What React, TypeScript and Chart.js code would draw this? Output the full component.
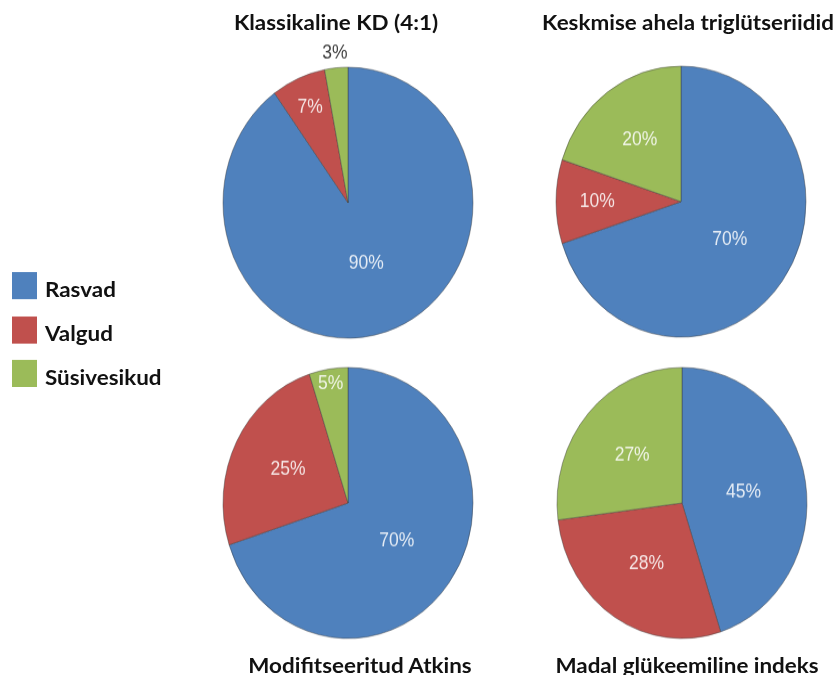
import React, { useEffect, useRef } from 'react';
import { Chart, registerables } from 'chart.js';

Chart.register(...registerables);

// Macronutrient split (% of energy) for four ketogenic diet variants
const categories = ['Rasvad', 'Valgud', 'Süsivesikud'];
const dietTitles = [
  'Klassikaline KD (4:1)',
  'Keskmise ahela triglütseriidid',
  'Modifitseeritud Atkins',
  'Madal glükeemiline indeks',
];
const klassikalineKD = [90, 7, 3];
const keskmiseAhelaTG = [70, 10, 20];
const modifitseeritudAtkins = [70, 25, 5];
const madalGlykeemiline = [45, 28, 27];

const sliceColors = ['#4F81BD', '#C0504D', '#9BBB59'];
const STRETCH = 1.084;
const TEXT_WIDEN = 1.12;
const TITLE_FONT = 'Lato, "Open Sans", sans-serif';

// Percentage labels: inside the slice (further out for narrow slices),
// or just outside the rim when the slice is too thin.
const percentLabels = {
  id: 'percentLabels',
  afterDatasetsDraw(chart: any) {
    const ctx = chart.ctx as CanvasRenderingContext2D;
    const meta = chart.getDatasetMeta(0);
    const data = chart.data.datasets[0].data as number[];
    const total = data.reduce((a, b) => a + b, 0);
    ctx.save();
    ctx.font = '17.5px "Liberation Sans", Arial, sans-serif';
    ctx.textAlign = 'center';
    ctx.textBaseline = 'middle';
    meta.data.forEach((arc: any, i: number) => {
      const { x, y, startAngle, endAngle, outerRadius } = arc.getProps(
        ['x', 'y', 'startAngle', 'endAngle', 'outerRadius'],
        true
      );
      const mid = (startAngle + endAngle) / 2;
      const share = data[i] / total;
      const fit = 0.45 + 0.022 / share;
      let dist: number;
      if (fit <= 1) {
        dist = fit * outerRadius;
        ctx.fillStyle = 'rgba(255,255,255,0.85)';
      } else {
        dist = outerRadius + 13;
        ctx.fillStyle = '#404040';
      }
      ctx.fillText(`${data[i]}%`, x + Math.cos(mid) * dist, y + Math.sin(mid) * dist);
    });
    ctx.restore();
  },
};

function DietPie({ values, cx, cy }: { values: number[]; cx: number; cy: number }) {
  const ref = useRef<HTMLCanvasElement>(null);
  useEffect(() => {
    const chart = new Chart(ref.current!, {
      type: 'pie',
      data: {
        labels: categories,
        datasets: [
          {
            data: values,
            backgroundColor: sliceColors,
            borderColor: 'rgba(60,60,60,0.45)',
            borderWidth: 1,
            radius: 125,
          } as any,
        ],
      },
      options: {
        responsive: false,
        animation: false,
        events: [],
        layout: { padding: 0 },
        plugins: {
          legend: { display: false },
          tooltip: { enabled: false },
          title: { display: false },
        },
      },
      plugins: [percentLabels],
    });
    return () => chart.destroy();
  }, [values]);
  return (
    <canvas
      ref={ref}
      width={300}
      height={300}
      style={{ position: 'absolute', left: cx - 150, top: cy - 150 }}
    />
  );
}

function Title({ text, cx, top }: { text: string; cx: number; top: number }) {
  return (
    <div
      style={{
        position: 'absolute',
        left: cx - 220,
        width: 440,
        top,
        textAlign: 'center',
        font: `bold 20px/20px ${TITLE_FONT}`,
        color: '#111',
        whiteSpace: 'nowrap',
        transform: `scaleX(${TEXT_WIDEN})`,
        transformOrigin: 'center',
      }}
    >
      {text}
    </div>
  );
}

const legendTops = [251, 291.5, 332];

export default function App() {
  return (
    <div
      style={{
        position: 'fixed',
        left: 0,
        top: 0,
        width: 835,
        height: 675,
        overflow: 'hidden',
        background: '#fff',
      }}
    >
      <div
        style={{
          position: 'absolute',
          left: 0,
          top: 0,
          width: 835,
          height: 625,
          transform: `scaleY(${STRETCH})`,
          transformOrigin: 'top left',
        }}
      >
        <DietPie values={klassikalineKD} cx={348} cy={186.5} />
        <DietPie values={keskmiseAhelaTG} cx={681} cy={185.5} />
        <DietPie values={modifitseeritudAtkins} cx={348} cy={464} />
        <DietPie values={madalGlykeemiline} cx={682} cy={464} />

        <Title text={dietTitles[0]} cx={335.5} top={10} />
        <Title text={dietTitles[1]} cx={688} top={10} />
        <Title text={dietTitles[2]} cx={359.5} top={603} />
        <Title text={dietTitles[3]} cx={686.5} top={603} />

        {categories.map((name, i) => (
          <React.Fragment key={name}>
            <div
              style={{
                position: 'absolute',
                left: 12,
                top: legendTops[i],
                width: 25,
                height: 25,
                background: sliceColors[i],
              }}
            />
            <div
              style={{
                position: 'absolute',
                left: 45,
                top: legendTops[i] + 5,
                font: `bold 20px/20px ${TITLE_FONT}`,
                color: '#111',
                whiteSpace: 'nowrap',
                transform: `scaleX(${TEXT_WIDEN})`,
                transformOrigin: 'left center',
              }}
            >
              {name}
            </div>
          </React.Fragment>
        ))}
      </div>
    </div>
  );
}
